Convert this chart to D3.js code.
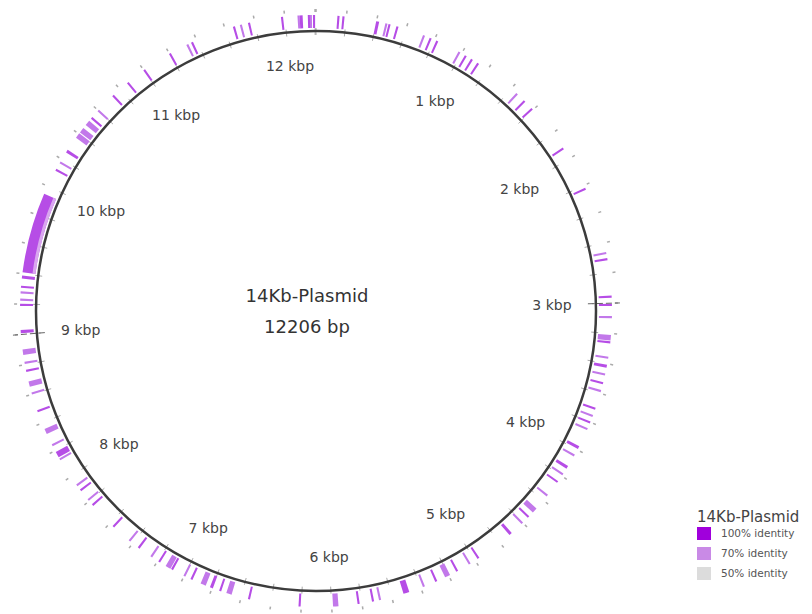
<!doctype html>
<html lang="en">
<head>
<meta charset="utf-8">
<title>14Kb-Plasmid ring</title>
<style>
  body { margin: 0; background: #fff; }
  svg text { font-family: "DejaVu Sans", Verdana, sans-serif; }
</style>
</head>
<body>
<div id="chart"></div>
<script src="https://cdn.jsdelivr.net/npm/d3@7"></script>
<script>
// plasmid size and scale labels
var genomeLen = 12206;
var kbpTicks = [1000, 2000, 3000, 4000, 5000, 6000, 7000, 8000, 9000, 10000, 11000, 12000];
var kbpLabels = ["1 kbp", "2 kbp", "3 kbp", "4 kbp", "5 kbp", "6 kbp", "7 kbp", "8 kbp", "9 kbp", "10 kbp", "11 kbp", "12 kbp"];
var longTicks = [3000, 9000];

// BLAST hits (start bp, length bp, identity %)
var hitStart = [141, 174, 398, 460, 481, 535, 719, 766, 813, 976, 1024, 1071, 1119, 1444, 1512, 1583, 1915, 2217,
  2661, 2702, 2950, 3004, 3085, 3210, 3251, 3353, 3407, 3465, 3523, 3577, 3699, 3749, 3795, 3842, 3973, 4035,
  4123, 4180, 4241, 4353, 4470, 4540, 4598, 4699, 4967, 5035, 5130, 5190, 5283, 5371, 5480, 5672, 5719, 5815,
  5955, 6204, 6540, 6665, 6737, 6795, 6845, 6940, 6991, 7083, 7102, 7181, 7243, 7344, 7420, 7561, 7758, 7802,
  7883, 7924, 8128, 8150, 8233, 8322, 8477, 8599, 8652, 8752, 8805, 8865, 9009, 9188, 9222, 9270, 9307, 9368,
  9409, 10114, 10170, 10253, 10369, 10413, 10474, 10528, 10593, 10731, 10860, 10996, 11196, 11325, 11359,
  11653, 11700, 11755, 11975, 12084, 12098, 12152, 12165, 12186];
var hitLen = [14, 14, 20, 14, 14, 14, 14, 14, 14, 14, 14, 14, 14, 14, 14, 14, 14, 14,
  14, 14, 14, 14, 14, 36, 14, 14, 20, 14, 14, 14, 14, 14, 14, 14, 20, 14,
  20, 14, 14, 14, 36, 14, 14, 20, 14, 14, 14, 36, 14, 14, 40, 14, 14, 14,
  36, 14, 14, 36, 14, 20, 36, 14, 14, 14, 36, 14, 14, 14, 14, 14, 14, 14,
  14, 14, 14, 40, 14, 36, 14, 14, 36, 14, 14, 36, 20, 14, 14, 14, 14, 20,
  536, 14, 14, 20, 36, 36, 36, 14, 14, 14, 14, 14, 14, 14, 14,
  14, 14, 14, 14, 14, 20, 14, 14, 14];
var hitIdentity = [100, 100, 100, 70, 100, 100, 70, 100, 100, 70, 100, 100, 100, 70, 100, 100, 100, 100,
  70, 100, 100, 100, 70, 70, 100, 70, 100, 70, 100, 70, 100, 70, 100, 70, 100, 70,
  100, 70, 100, 70, 70, 100, 70, 100, 100, 70, 100, 70, 100, 70, 100, 70, 100, 100,
  70, 100, 100, 70, 100, 100, 70, 100, 70, 100, 70, 100, 70, 100, 70, 100, 100, 70,
  100, 70, 70, 100, 70, 70, 100, 70, 70, 100, 70, 70, 100, 100, 70, 70, 100, 100,
  100, 100, 70, 100, 70, 70, 70, 100, 70, 100, 100, 100, 100, 70, 100,
  100, 70, 100, 100, 70, 100, 100, 70, 100];

// legend
var legendTitle = "14Kb-Plasmid";
var legendLabels = ["100% identity", "70% identity", "50% identity"];
var legendColors = ["#a000dc", "#c98ae6", "#dcdcdc"];

var width = 812, height = 614;
var cx = 316, cy = 311, r = 280;

var svg = d3.select("#chart").append("svg")
  .attr("width", width)
  .attr("height", height);

var angle = d3.scaleLinear().domain([0, genomeLen]).range([0, 2 * Math.PI]);
// ring colours are a touch softer than the legend swatches
var idColor = d3.scaleOrdinal().domain([100, 70, 50]).range(["#a92ee2", "#b760e6", "#dcdcdc"]);

var g = svg.append("g").attr("transform", "translate(" + cx + "," + cy + ")");

function px(bp, rad) { return Math.sin(angle(bp)) * rad; }
function py(bp, rad) { return -Math.cos(angle(bp)) * rad; }

// hit ring
var hits = hitStart.map(function(s, i) {
  return { start: s, len: hitLen[i], id: hitIdentity[i] };
});
var hitArc = d3.arc()
  .innerRadius(r + 3)
  .outerRadius(r + 16)
  .startAngle(function(d) { return angle(d.start); })
  .endAngle(function(d) { return angle(d.start + d.len); });

g.selectAll(".hit")
  .data(hits)
  .enter().append("path")
  .attr("class", "hit")
  .attr("d", hitArc)
  .attr("fill", function(d) { return idColor(d.id); })
  .attr("fill-opacity", 0.85);

// light inner edge on the long hit block
g.selectAll(".edge")
  .data(hits.filter(function(d) { return d.len > 100; }))
  .enter().append("path")
  .attr("class", "edge")
  .attr("d", d3.arc()
    .innerRadius(r + 3).outerRadius(r + 6)
    .startAngle(function(d) { return angle(d.start); })
    .endAngle(function(d) { return angle(d.start + d.len); }))
  .attr("fill", "#d9a6ef");

// minor ticks every 200 bp on the backbone and an outer dotted scale
var minor = d3.range(0, genomeLen, 200);
g.selectAll(".minor")
  .data(minor)
  .enter().append("line")
  .attr("class", "minor")
  .attr("x1", function(d) { return px(d, r - 4); })
  .attr("y1", function(d) { return py(d, r - 4); })
  .attr("x2", function(d) { return px(d, r + 3); })
  .attr("y2", function(d) { return py(d, r + 3); })
  .attr("stroke", "#aaa")
  .attr("stroke-width", 1);

g.selectAll(".outer")
  .data(minor)
  .enter().append("line")
  .attr("class", "outer")
  .attr("x1", function(d) { return px(d, r + 19); })
  .attr("y1", function(d) { return py(d, r + 19); })
  .attr("x2", function(d) { return px(d, r + 22); })
  .attr("y2", function(d) { return py(d, r + 22); })
  .attr("stroke", "#aaa")
  .attr("stroke-width", 1.5);

g.selectAll(".long")
  .data(longTicks)
  .enter().append("line")
  .attr("class", "long")
  .attr("x1", function(d) { return px(d, r - 8); })
  .attr("y1", function(d) { return py(d, r - 8); })
  .attr("x2", function(d) { return px(d, r + 24); })
  .attr("y2", function(d) { return py(d, r + 24); })
  .attr("stroke", "#666")
  .attr("stroke-width", 1)
  .attr("stroke-dasharray", "6,3");

// backbone
g.append("circle")
  .attr("r", r)
  .attr("fill", "none")
  .attr("stroke", "#3c3c3c")
  .attr("stroke-width", 2.5);

// kbp labels
g.selectAll(".kbp")
  .data(kbpTicks)
  .enter().append("text")
  .attr("class", "kbp")
  .attr("x", function(d) { return px(d, 247 - 11 * Math.abs(Math.sin(angle(d)))); })
  .attr("y", function(d) { return py(d, 247 - 11 * Math.abs(Math.sin(angle(d)))); })
  .attr("dy", "0.35em")
  .attr("text-anchor", "middle")
  .attr("font-size", 14)
  .attr("fill", "#444")
  .text(function(d, i) { return kbpLabels[i]; });

// centre title
g.append("text")
  .attr("x", -9).attr("y", -9)
  .attr("text-anchor", "middle")
  .attr("font-size", 18)
  .attr("fill", "#333")
  .text(legendTitle);
g.append("text")
  .attr("x", -9).attr("y", 22)
  .attr("text-anchor", "middle")
  .attr("font-size", 18)
  .attr("fill", "#333")
  .text(genomeLen + " bp");

// legend
var leg = svg.append("g").attr("transform", "translate(697,512)");
leg.append("text")
  .attr("x", 0).attr("y", 10)
  .attr("font-size", 15)
  .attr("fill", "#444")
  .text(legendTitle);
var item = leg.selectAll(".item")
  .data(legendLabels)
  .enter().append("g")
  .attr("class", "item")
  .attr("transform", function(d, i) { return "translate(0," + (15 + i * 20) + ")"; });
item.append("rect")
  .attr("width", 14).attr("height", 13)
  .attr("fill", function(d, i) { return legendColors[i]; });
item.append("text")
  .attr("x", 24).attr("y", 10)
  .attr("font-size", 10.5)
  .attr("fill", "#555")
  .text(function(d) { return d; });
</script>
</body>
</html>
